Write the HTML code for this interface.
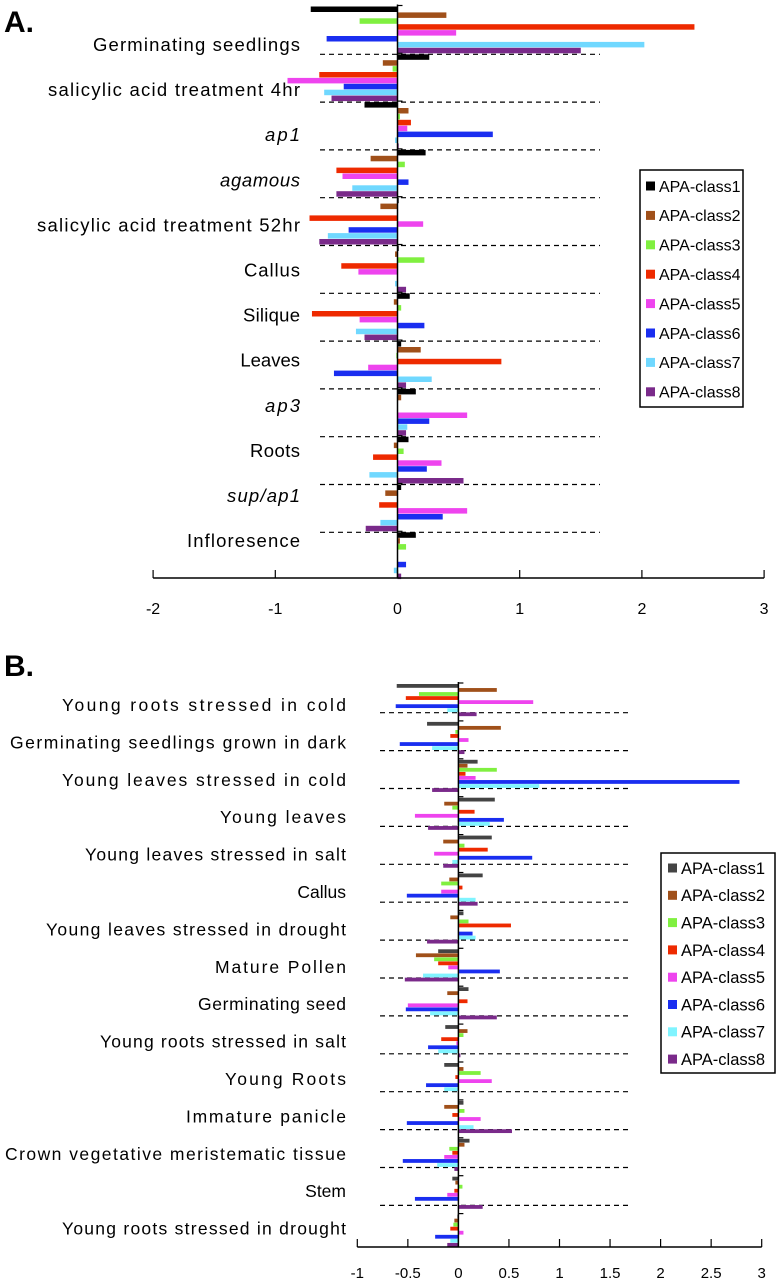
<!DOCTYPE html>
<html><head><meta charset="utf-8"><style>
html,body{margin:0;padding:0;background:#fff;}
svg{display:block;font-family:"Liberation Sans",Arial,sans-serif;}
</style></head><body>
<svg id="chart" width="778" height="1280" viewBox="0 0 778 1280" xmlns="http://www.w3.org/2000/svg">
<text x="4" y="32" font-size="30" font-weight="bold">A.</text>
<text x="4" y="676" font-size="30" font-weight="bold">B.</text>
</svg>
<script>
const seriesNames = ["APA-class1","APA-class2","APA-class3","APA-class4","APA-class5","APA-class6","APA-class7","APA-class8"];
const colorsA = ["#000000","#a0501a","#80f040","#ee2a00","#ee44ee","#1a2ef0","#70d8ff","#7a2a8a"];
const colorsB = ["#444444","#a0501a","#80f040","#ee2a00","#ee44ee","#1a2ef0","#80f4ff","#7a2a8a"];

const catsA = ["Germinating seedlings","salicylic acid treatment 4hr","ap1","agamous","salicylic acid treatment 52hr","Callus","Silique","Leaves","ap3","Roots","sup/ap1","Infloresence"];
const italicA = [false,false,true,true,false,false,false,false,true,false,true,false];
const labelStartA = [93,48,265,220,37,244,243,250,265,250,227,187];
const valsA = [
 [-0.71,0.40,-0.31,2.43,0.48,-0.58,2.02,1.50],
 [0.26,-0.12,-0.04,-0.64,-0.90,-0.44,-0.60,-0.54],
 [-0.27,0.09,0.02,0.11,0.08,0.78,-0.02,0.01],
 [0.23,-0.22,0.06,-0.50,-0.45,0.09,-0.37,-0.50],
 [0.01,-0.14,0.0,-0.72,0.21,-0.40,-0.57,-0.64],
 [0.01,-0.02,0.22,-0.46,-0.32,0.0,-0.02,0.07],
 [0.10,-0.03,0.03,-0.70,-0.31,0.22,-0.34,-0.27],
 [0.03,0.19,-0.01,0.85,-0.24,-0.52,0.28,0.07],
 [0.15,0.03,0.0,0.0,0.57,0.26,0.08,0.07],
 [0.09,-0.03,0.05,-0.20,0.36,0.24,-0.23,0.54],
 [0.03,-0.10,0.0,-0.15,0.57,0.37,-0.14,-0.26],
 [0.15,0.02,0.07,0.0,0.0,0.07,-0.03,0.03]
];
const ticksA = [-2,-1,0,1,2,3];

const catsB = ["Young roots stressed in cold","Germinating seedlings grown in dark","Young leaves stressed in cold","Young leaves","Young leaves stressed in salt","Callus","Young leaves stressed in drought","Mature Pollen","Germinating seed","Young roots stressed in salt","Young Roots","Immature panicle","Crown vegetative meristematic tissue","Stem","Young roots stressed in drought"];
const labelStartB = [62,10,62,220,85,302,46,215,198,100,225,186,5,310,62];
const valsB = [
 [-0.61,0.38,-0.39,-0.52,0.74,-0.62,-0.11,0.18],
 [-0.31,0.42,-0.03,-0.08,0.10,-0.58,-0.26,0.06],
 [0.19,0.09,0.38,0.07,0.17,2.78,0.80,-0.26],
 [0.36,-0.14,-0.06,0.16,-0.43,0.45,0.31,-0.30],
 [0.33,-0.15,0.06,0.29,-0.24,0.73,-0.06,-0.15],
 [0.24,-0.09,-0.17,0.04,-0.17,-0.51,0.17,0.19],
 [0.05,-0.08,0.10,0.52,0.0,0.14,0.17,-0.31],
 [-0.20,-0.42,-0.24,-0.20,-0.10,0.41,-0.35,-0.53],
 [0.10,-0.11,0.0,0.09,-0.50,-0.52,-0.28,0.38],
 [-0.13,0.09,0.05,-0.17,-0.02,-0.30,-0.20,0.02],
 [-0.14,0.05,0.22,-0.03,0.33,-0.32,-0.14,0.0],
 [0.05,-0.14,0.06,-0.06,0.22,-0.51,0.15,0.53],
 [0.11,0.06,-0.09,-0.06,-0.14,-0.55,-0.21,-0.04],
 [-0.06,-0.03,0.04,-0.04,-0.11,-0.43,0.0,0.24],
 [-0.01,-0.04,-0.05,-0.08,0.05,-0.23,-0.08,-0.11]
];
const ticksB = [-1,-0.5,0,0.5,1,1.5,2,2.5,3];

const svg = document.getElementById('chart');
const NS = "http://www.w3.org/2000/svg";
function mk(tag, attrs, parent){
  const e = document.createElementNS(NS, tag);
  for (const k in attrs) e.setAttribute(k, attrs[k]);
  (parent||svg).appendChild(e);
  return e;
}

function drawPanel(cfg){
  const g = mk('g', {});
  
  
  const x = v => cfg.zeroX + v * cfg.unit;
  for (let i = 0; i < cfg.cats.length - 1; i++) {
    const d = mk('line', {x1: cfg.dashX1, x2: cfg.dashX2, y1: cfg.dashY0 + cfg.groupPitch*i, y2: cfg.dashY0 + cfg.groupPitch*i, stroke: '#000', 'stroke-width': 1.2, 'stroke-dasharray': '5,4'}, g);
    
    
  }
  cfg.vals.forEach((row, gi) => {
    row.forEach((v, si) => {
      const y = cfg.groupTop + cfg.groupPitch*gi + cfg.barPitch*si;
      const x0 = Math.min(x(0), x(v)), w = Math.abs(x(v) - x(0));
      const r = mk('rect', {x: x0, y: y, width: Math.max(w, 0), height: cfg.barH, fill: cfg.colors[si]}, g);
      
      
    });
  });
  const z = mk('line', {x1: x(0), x2: x(0), y1: cfg.groupTop - 2, y2: cfg.axisY, stroke: '#000', 'stroke-width': 1.5}, g);
  
  
  for (let i = 0; i < cfg.cats.length; i++) {
    const yy = cfg.groupTop + cfg.groupPitch*i - 1;
    const t = mk('line', {x1: x(0), x2: x(0)+5, y1: yy, y2: yy, stroke: '#000', 'stroke-width': 1.2}, g);
    
    
  }
  cfg.cats.forEach((c, i) => {
    const t = mk('text', {x: cfg.labelEnd, y: cfg.labelY0 + cfg.labelPitch*i + 6, 'font-size': cfg.labelSize, 'text-anchor': 'end', fill: '#000'}, g);
    if (cfg.italic && cfg.italic[i]) t.setAttribute('font-style', 'italic');
    t.textContent = c;
    
    
    const want = cfg.labelEnd - cfg.labelStart[i];
    const nat = t.getComputedTextLength();
    if (want > nat) {
      t.setAttribute('textLength', want);
      t.setAttribute('lengthAdjust', 'spacing');
    }
  });
  const ax = mk('line', {x1: x(cfg.ticks[0]), x2: x(cfg.ticks[cfg.ticks.length-1]), y1: cfg.axisY, y2: cfg.axisY, stroke: '#000', 'stroke-width': 1.5}, g);
  
  
  cfg.ticks.forEach(tv => {
    const tk = mk('line', {x1: x(tv), x2: x(tv), y1: cfg.axisY - 8, y2: cfg.axisY, stroke: '#000', 'stroke-width': 1.2}, g);
    
    
    const tl = mk('text', {x: x(tv), y: cfg.tickLabelY, 'font-size': cfg.tickSize, 'text-anchor': 'middle', fill: '#000'}, g);
    tl.textContent = String(tv);
    
    
  });
  const lg = mk('g', {}, g);
  
  
  const L = cfg.legend;
  const box = mk('rect', {x: L.x, y: L.y, width: L.w, height: L.h, fill: '#fff', stroke: '#000', 'stroke-width': 1.5}, lg);
  
  
  seriesNames.forEach((n, i) => {
    const cy = L.y0 + L.pitch*i;
    const sq = mk('rect', {x: L.sx, y: cy - L.sq/2, width: L.sq, height: L.sq, fill: cfg.colors[i]}, lg);
    
    
    const tx = mk('text', {x: L.tx, y: cy + L.fs*0.36, 'font-size': L.fs, fill: '#000'}, lg);
    tx.textContent = n;
    
    
  });
}

drawPanel({
  name: 'panel-a-chart', cats: catsA, vals: valsA, colors: colorsA, ticks: ticksA, italic: italicA,
  zeroX: 397.5, unit: 122.2, groupTop: 6.5, groupPitch: 47.8, barPitch: 5.9, barH: 5.5,
  dashY0: 54.3, dashX1: 320, dashX2: 600, axisY: 578,
  labelEnd: 300, labelStart: labelStartA, labelY0: 45, labelPitch: 45.1, labelSize: 18.5,
  tickLabelY: 614, tickSize: 16,
  legend: {x: 640, y: 170, w: 103, h: 237, y0: 186, pitch: 29.4, sx: 646, sq: 9, tx: 659, fs: 16}
});
drawPanel({
  name: 'panel-b-chart', cats: catsB, vals: valsB, colors: colorsB, ticks: ticksB, italic: null,
  zeroX: 458.4, unit: 101.1, groupTop: 684, groupPitch: 37.9, barPitch: 4.05, barH: 3.8,
  dashY0: 712.7, dashX1: 380, dashX2: 628, axisY: 1247,
  labelEnd: 346, labelStart: labelStartB, labelY0: 705, labelPitch: 37.4, labelSize: 17.5,
  tickLabelY: 1278, tickSize: 15,
  legend: {x: 661, y: 853, w: 114, h: 220, y0: 868, pitch: 27.3, sx: 668, sq: 9, tx: 681, fs: 16.5}
});
</script>
</body></html>
